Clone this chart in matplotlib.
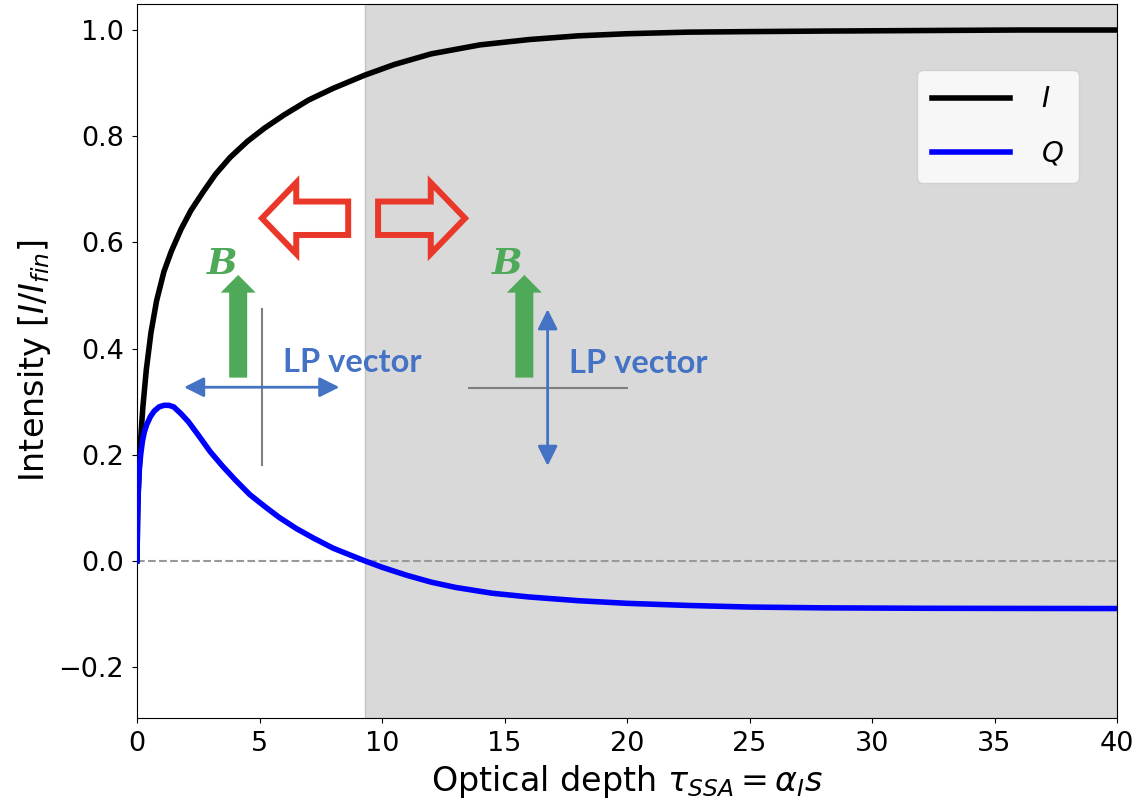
import matplotlib
matplotlib.use("Agg")
import matplotlib.pyplot as plt
from matplotlib.patches import FancyArrow

# -------- datos --------
tau_I = [0, 0.03, 0.07, 0.15, 0.24, 0.38, 0.57, 0.8, 1.1, 1.4, 1.8, 2.2, 2.7,
         3.2, 3.8, 4.5, 5.2, 6.0, 7.0, 8.0, 9.3, 10.5, 12, 14, 16, 18, 20,
         22.5, 25, 28, 32, 36, 40]
I_vals = [0, 0.10, 0.152, 0.23, 0.29, 0.36, 0.43, 0.49, 0.545, 0.583, 0.625, 0.66, 0.695,
          0.728, 0.76, 0.79, 0.815, 0.84, 0.868, 0.89, 0.915, 0.935, 0.955, 0.972, 0.982, 0.989, 0.993,
          0.996, 0.997, 0.998, 0.999, 1.0, 1.0]

tau_Q = [0, 0.02, 0.05, 0.1, 0.15, 0.22, 0.3, 0.4, 0.55, 0.7, 0.9, 1.1, 1.3,
         1.5, 1.8, 2.1, 2.5, 3.0, 3.5, 4.0, 4.6, 5.2, 5.8, 6.5, 7.2, 8.0, 8.7,
         9.3, 10, 11, 12, 13, 14.5, 16, 18, 20, 22.5, 25, 28, 32, 36, 40]
Q_vals = [0, 0.07, 0.13, 0.175, 0.2, 0.225, 0.243, 0.257, 0.272, 0.282, 0.29, 0.293, 0.293,
          0.29, 0.277, 0.262, 0.237, 0.205, 0.178, 0.153, 0.125, 0.103, 0.082, 0.061, 0.043, 0.024, 0.011,
          0.0, -0.012, -0.027, -0.040, -0.050, -0.061, -0.068, -0.075, -0.080, -0.084, -0.087, -0.0885,
          -0.0893, -0.0896, -0.0898]

tau_flip = 9.3          # cambio de signo de Q
x_ticks = [0, 5, 10, 15, 20, 25, 30, 35, 40]
y_ticks = [-0.2, 0.0, 0.2, 0.4, 0.6, 0.8, 1.0]

RED = "#e9372a"
GREEN = "#4ea958"
BLUE_LP = "#4472c4"
GREY_LINE = "#7f7f7f"

# -------- figura --------
fig = plt.figure(figsize=(11.43, 8.06), dpi=100)
ax = fig.add_axes([137 / 1143, 1 - 718 / 806, 980 / 1143, 714 / 806])

ax.axvspan(tau_flip, 40, facecolor="#d9d9d9", edgecolor="#c4c4c4", lw=1, zorder=0)
ax.axhline(0, color="#999999", ls="--", lw=1.5, zorder=1)

ax.plot(tau_I, I_vals, color="black", lw=4, label="$I$", zorder=3)
ax.plot(tau_Q, Q_vals, color="blue", lw=4, label="$Q$", zorder=3)

ax.set_xlim(0, 40)
ax.set_ylim(-0.296, 1.049)
ax.set_xticks(x_ticks)
ax.set_yticks(y_ticks)
ax.tick_params(labelsize=19.5, pad=6)
ax.set_xlabel(r"Optical depth $\tau_{SSA} = \alpha_I s$", fontsize=24)
ax.set_ylabel(r"Intensity [$I/I_{fin}$]", fontsize=24)

ax.legend(loc="upper right", bbox_to_anchor=(0.961, 0.9076), borderaxespad=0,
          fontsize=20, handlelength=2.8, handletextpad=1.1, labelspacing=0.95,
          borderpad=0.55)

# -------- anotaciones --------
# flechas rojas huecas
ax.add_patch(FancyArrow(8.62, 0.6454, -3.52, 0, width=0.063, head_width=0.134,
                        head_length=1.4, length_includes_head=True,
                        facecolor="none", edgecolor=RED, lw=4.3, joinstyle="miter", zorder=4))
ax.add_patch(FancyArrow(9.84, 0.6454, 3.55, 0, width=0.063, head_width=0.134,
                        head_length=1.4, length_includes_head=True,
                        facecolor="none", edgecolor=RED, lw=4.3, joinstyle="miter", zorder=4))

# campo B
for xc, xb in [(4.13, 3.47), (15.81, 15.1)]:
    ax.add_patch(FancyArrow(xc, 0.3452, 0, 0.1934, width=0.735, head_width=1.43,
                            head_length=0.0333, length_includes_head=True,
                            facecolor=GREEN, lw=0, zorder=4))
    ax.text(xb, 0.5405, "B", ha="center", va="baseline", family="DejaVu Serif",
            style="italic", weight="bold", color=GREEN, fontsize=26, zorder=4)

arrow_kw = dict(arrowstyle="<|-|>,head_length=0.4,head_width=0.2", color=BLUE_LP,
                lw=2, mutation_scale=30, shrinkA=0, shrinkB=0)

# izquierda: LP horizontal
ax.plot([5.10, 5.10], [0.1808, 0.4746], color=GREY_LINE, lw=1.5, zorder=4)
ax.annotate("", xy=(8.26, 0.3271), xytext=(1.92, 0.3271), arrowprops=arrow_kw, zorder=5)
ax.text(5.97, 0.3565, "LP vector", color=BLUE_LP, fontsize=23.5, fontweight="bold",
        family="Lato", va="baseline", zorder=5)

# derecha: LP vertical
ax.plot([13.56, 20.01], [0.3264, 0.3264], color=GREY_LINE, lw=1.5, zorder=4)
ax.annotate("", xy=(16.76, 0.474), xytext=(16.76, 0.1789), arrowprops=arrow_kw, zorder=5)
ax.text(17.64, 0.3546, "LP vector", color=BLUE_LP, fontsize=23.5, fontweight="bold",
        family="Lato", va="baseline", zorder=5)

fig.savefig("out.png", dpi=100)
